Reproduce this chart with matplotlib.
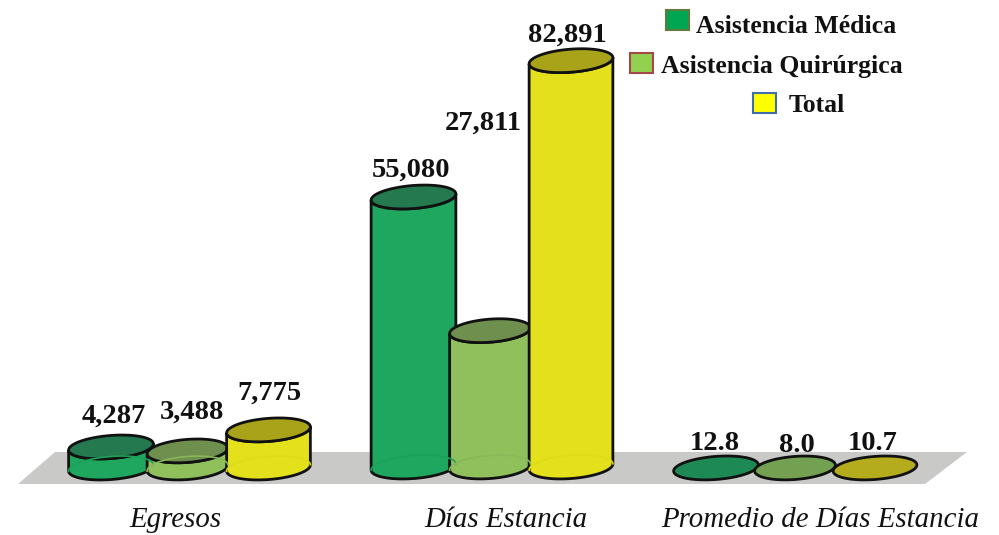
import numpy as np
import matplotlib
matplotlib.use("Agg")
import matplotlib.pyplot as plt
from matplotlib.patches import Polygon, Rectangle

groups = ["Egresos", "Días Estancia", "Promedio de Días Estancia"]
series = ["Asistencia Médica", "Asistencia Quirúrgica", "Total"]
egresos = [4287, 3488, 7775]
dias = [55080, 27811, 82891]
promedio = [12.8, 8.0, 10.7]
labels_egresos = ["4,287", "3,488", "7,775"]
labels_dias = ["55,080", "27,811", "82,891"]
labels_promedio = ["12.8", "8.0", "10.7"]

body_colors = ["#1fa75f", "#8fc05c", "#e4e01c"]
top_colors = ["#24794f", "#6f8f4e", "#a9a31a"]
flat_colors = ["#1d8a55", "#74a052", "#b4ac1c"]
arc_colors = ["#1ca058", "#88b858", "#dedb18"]
swatch_colors = ["#00a651", "#92d050", "#ffff00"]
swatch_edges = ["#5f7a3c", "#a5484a", "#3f6fa8"]

UNITS = 204.0   # value units per pixel
BASE = 467.0    # pixel row of the zero line
radius = [42.5, 40.5, 42.0]
B = 11.5
TILT = np.radians(4.5)


def yval(py):
    return (BASE - py) * UNITS


def ellipse(cx, value, a, start=0, end=2 * np.pi):
    t = np.linspace(start, end, 80)
    x = cx + a * np.cos(t) * np.cos(TILT) - B * np.sin(t) * np.sin(TILT)
    y = value + (a * np.cos(t) * np.sin(TILT) + B * np.sin(t) * np.cos(TILT)) * UNITS
    return x, y


def cylinder(ax, cx, value, i, base=0.0, flat=False):
    a = radius[i]
    if flat:
        x, y = ellipse(cx, base + value, a)
        ax.fill(x, y, fc=flat_colors[i], ec="#111111", lw=2)
        return
    xb, yb = ellipse(cx, base, a, np.pi, 2 * np.pi)
    xt, yt = ellipse(cx, base + value, a, np.pi, 2 * np.pi)
    pts = np.column_stack([np.r_[xb, xt[::-1]], np.r_[yb, yt[::-1]]])
    ax.add_patch(Polygon(pts, fc=body_colors[i], ec="none"))
    xa, ya = ellipse(cx, base, a, 0, np.pi)
    ax.plot(xa, ya, color=arc_colors[i], lw=1.2)
    ax.add_patch(Polygon(pts, fc="none", ec="#111111", lw=2))
    x, y = ellipse(cx, base + value, a)
    ax.fill(x, y, fc=top_colors[i], ec="#111111", lw=2)


fig = plt.figure(figsize=(9.99, 5.35), dpi=100)
ax = fig.add_axes([0, 0, 1, 1])
ax.set_xlim(0, 999)
ax.set_ylim(yval(535), yval(0))
ax.axis("off")

plt.rcParams["font.family"] = ["Liberation Serif", "DejaVu Serif"]

# grey floor
floor = [(18, yval(484)), (925, yval(484)), (967, yval(452)), (55, yval(452))]
ax.add_patch(Polygon(floor, fc="#c9c9c7", ec="none"))

centers_egresos = [111, 187.5, 268.5]
centers_dias = [413.5, 490, 571]
centers_promedio = [716, 795, 875]

for i in range(3):
    cylinder(ax, centers_egresos[i], egresos[i], i, base=yval(468))
for i in range(3):
    cylinder(ax, centers_dias[i], dias[i], i)
for i in range(3):
    cylinder(ax, centers_promedio[i], promedio[i], i, base=yval(468), flat=True)

# value labels, placed by hand like the original
label_x = [114, 192, 269, 411, 483.5, 567, 715, 797, 873]
label_y = [423, 419, 400, 177, 130, 42, 450, 452, 450]
all_labels = labels_egresos + labels_dias + labels_promedio
for s, x, y in zip(all_labels, label_x, label_y):
    ax.text(x, yval(y), s, ha="center", va="baseline", fontsize=20.5,
            fontweight="bold", color="#111111")

# group names
for s, x in zip(groups, [175.5, 506, 820]):
    ax.text(x, yval(527), s, ha="center", va="baseline", fontsize=20.8,
            style="italic", color="#111111")

# legend
swatch_x = [665.5, 630, 753]
swatch_y = [30, 73, 113]
text_x = [696, 661, 789]
text_y = [33, 73, 112]
for i in range(3):
    ax.add_patch(Rectangle((swatch_x[i], yval(swatch_y[i])), 23, 20 * UNITS,
                           fc=swatch_colors[i], ec=swatch_edges[i], lw=1.5))
    ax.text(text_x[i], yval(text_y[i]), series[i], ha="left", va="baseline",
            fontsize=18.5, fontweight="bold", color="#111111")

fig.savefig("out.png", dpi=100)
